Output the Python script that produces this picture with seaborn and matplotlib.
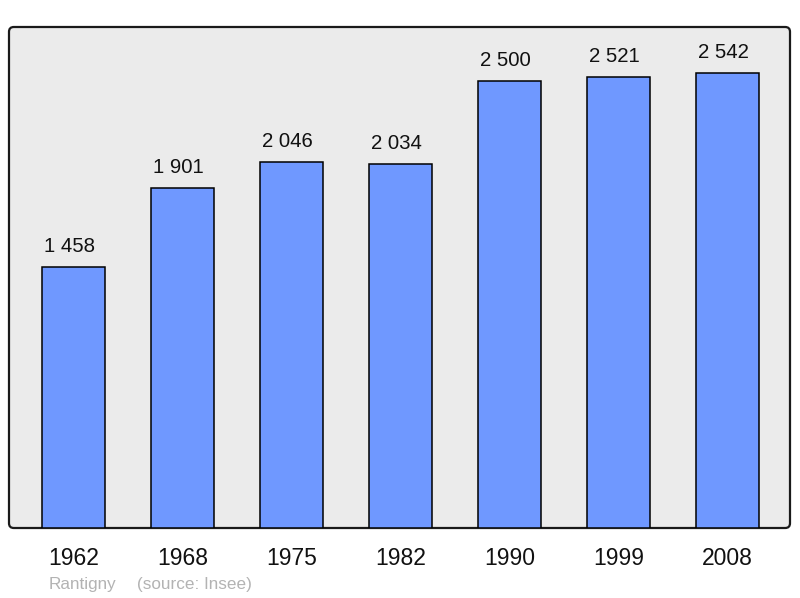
import matplotlib
matplotlib.use("Agg")
import matplotlib.pyplot as plt
import seaborn as sns
import pandas as pd
from matplotlib.patches import FancyBboxPatch

years = ["1962", "1968", "1975", "1982", "1990", "1999", "2008"]
population = [1458, 1901, 2046, 2034, 2500, 2521, 2542]
value_labels = ["1 458", "1 901", "2 046", "2 034", "2 500", "2 521", "2 542"]
town = "Rantigny"
source = "(source: Insee)"

df = pd.DataFrame({"year": years, "population": population})

sns.set_style("white")
plt.rcParams["font.family"] = ["Liberation Sans", "DejaVu Sans"]

fig = plt.figure(figsize=(8, 5.98), dpi=100)
ax = fig.add_axes([9/800, 1-528/598, 781/800, 501/598])
ax.set_facecolor("none")
ax.set_zorder(2)

# rounded frame behind the axes
frame = FancyBboxPatch((9/800, 1-528/598), 781/800, 501/598,
                       boxstyle="round,pad=0,rounding_size=0.006",
                       mutation_aspect=800/598,
                       transform=fig.transFigure, facecolor="#ebebeb",
                       edgecolor="#1a1a1a", linewidth=1.6, zorder=1)
fig.patches.append(frame)

sns.barplot(data=df, x="year", y="population", color="#6f98ff",
            saturation=1, width=0.578, edgecolor="black", linewidth=1.1, ax=ax)

for i, (v, lab) in enumerate(zip(population, value_labels)):
    ax.annotate(lab, (i, v), xytext=(-3, 8), textcoords="offset points",
                ha="center", va="bottom", fontsize=14.7, color="#111111")

ax.set_xlim(-0.592, 6.573)
ax.set_ylim(0, 2800)
ax.set_yticks([])
ax.set_xlabel("")
ax.set_ylabel("")
for s in ax.spines.values():
    s.set_visible(False)
ax.tick_params(axis="x", length=0, pad=14, labelsize=16.5, labelcolor="#111111")

fig.text(49/800, 1-584/598, town, fontsize=12.3, color="#b3b3b3", va="center")
fig.text(137/800, 1-584/598, source, fontsize=12.3, color="#b3b3b3", va="center")

plt.savefig("out.png", dpi=100)
